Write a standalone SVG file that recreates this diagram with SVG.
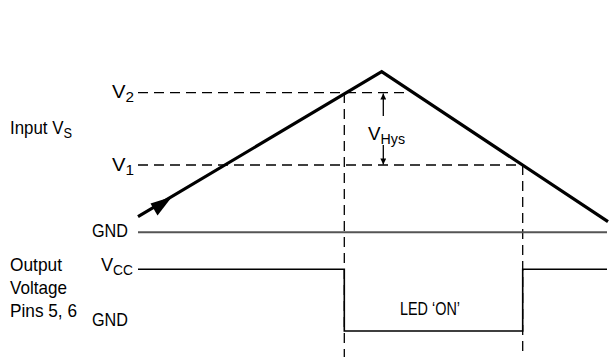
<svg xmlns="http://www.w3.org/2000/svg" width="609" height="357" viewBox="0 0 609 357">
<defs>
<style>
.t{font-family:"Liberation Sans Narrow","Liberation Sans",Arial,sans-serif;font-size:18.5px;fill:#000}
.s{font-size:14px}
.dash{stroke:#000;stroke-width:1.3;stroke-dasharray:10,6;fill:none}
.gnd{stroke:#555;stroke-width:2;fill:none}
.wave{stroke:#000;stroke-width:1.6;fill:none}
.tri{stroke:#000;stroke-width:3.2;fill:none;stroke-linejoin:miter}
</style>
<marker id="ah" viewBox="0 0 10 10" refX="10" refY="5" markerWidth="9" markerHeight="6" markerUnits="userSpaceOnUse" orient="auto"><path d="M0,0 L10,5 L0,10 z" fill="#000"/></marker>
</defs>
<rect width="609" height="357" fill="#fff"/>
<g id="labels">
<text class="t" x="10" y="134" textLength="62" lengthAdjust="spacingAndGlyphs">Input V<tspan class="s" dy="4">S</tspan></text>
<text class="t" x="112" y="98" textLength="22" lengthAdjust="spacingAndGlyphs">V<tspan class="s" dy="4">2</tspan></text>
<text class="t" x="112" y="171" textLength="22" lengthAdjust="spacingAndGlyphs">V<tspan class="s" dy="4">1</tspan></text>
<text class="t" x="92" y="236.5" textLength="36" lengthAdjust="spacingAndGlyphs">GND</text>
<text class="t" x="10" y="271" textLength="52" lengthAdjust="spacingAndGlyphs">Output</text>
<text class="t" x="10" y="294" textLength="57" lengthAdjust="spacingAndGlyphs">Voltage</text>
<text class="t" x="10" y="317" textLength="67" lengthAdjust="spacingAndGlyphs">Pins 5, 6</text>
<text class="t" x="101" y="271" textLength="32" lengthAdjust="spacingAndGlyphs">V<tspan class="s" dy="4">CC</tspan></text>
<text class="t" x="92" y="326" textLength="36" lengthAdjust="spacingAndGlyphs">GND</text>
<text class="t" x="368" y="140" textLength="37" lengthAdjust="spacingAndGlyphs">V<tspan class="s" dy="4">Hys</tspan></text>
<text class="t" x="400" y="315" textLength="60" lengthAdjust="spacingAndGlyphs">LED ‘ON’</text>
</g>
<g id="connectors">
<path class="dash" d="M138,92.7 H410"/>
<path class="dash" d="M138,165 H522.7"/>
<path class="dash" d="M344.3,93 V357"/>
<path class="dash" d="M522.7,165 V357"/>
<path class="gnd" d="M138,232.3 H607"/>
<path class="wave" d="M138,269.3 H344.3 V331 H522.7 V269.3 H607"/>
<path class="tri" d="M138,216.7 L381.7,71.7 L608,221.7"/>
<path d="M172,196.8 L150.5,203.6 L157.5,215.4 z" fill="#000"/>
<line x1="383.3" y1="116" x2="383.3" y2="93.5" stroke="#000" stroke-width="1.3" marker-end="url(#ah)"/>
<line x1="383.3" y1="145" x2="383.3" y2="164.5" stroke="#000" stroke-width="1.3" marker-end="url(#ah)"/>
</g>
</svg>
